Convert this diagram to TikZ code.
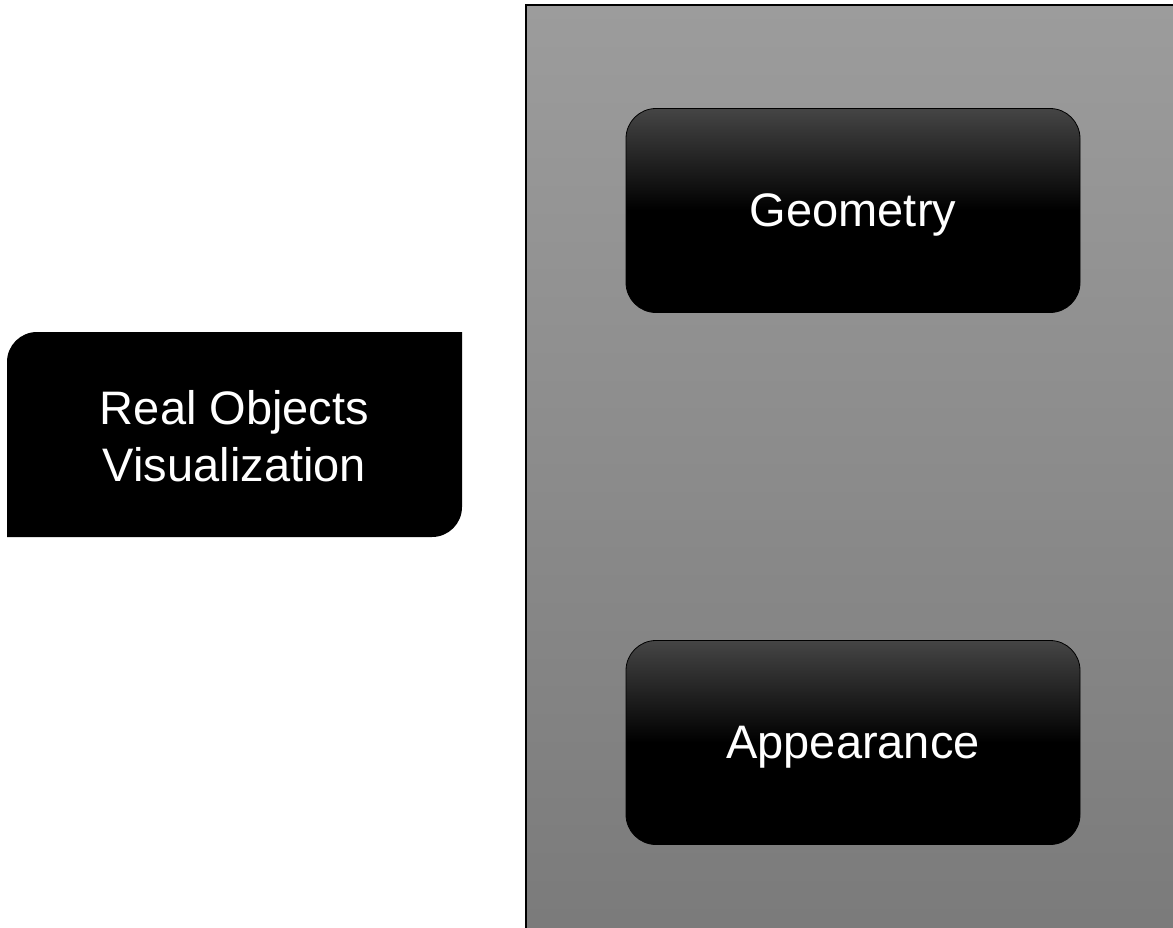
\documentclass[tikz,border=0pt]{standalone}
\usepackage{fontspec}
\setmainfont{Liberation Sans}
\definecolor{paneltop}{HTML}{9C9C9C}
\definecolor{panelbot}{HTML}{7A7A7A}
\definecolor{boxtop}{HTML}{454545}
\begin{document}
\begin{tikzpicture}[x=1pt,y=-1pt,
  lbl/.style={text=white, align=center, font=\fontsize{47}{57}\selectfont},
  rbox/.style={lbl, draw=black, line width=0.8pt, rounded corners=30pt,
    minimum width=454pt, minimum height=204pt, text depth=0pt,
    top color=boxtop, bottom color=black, middle color=black}]
\useasboundingbox (0,0) rectangle (1173,927);
\fill[white] (0,0) rectangle (1173,927);
% panel
\shade[top color=paneltop, bottom color=panelbot, draw=black, line width=1.5pt]
  (526,5) rectangle (1200,950);
% left box shape
\fill[black] (7,537) -- (7,362) arc[start angle=180, end angle=90, radius=30pt]
  -- (462,332) -- (462,507) arc[start angle=0, end angle=-90, radius=30pt] -- cycle;
\node[lbl] (real) at (234.5,436) {Real Objects\\Visualization};
\node[rbox] (geo) at (853,210.5) {Geometry};
\node[rbox] (app) at (853,742.5) {Appearance};
\end{tikzpicture}
\end{document}
